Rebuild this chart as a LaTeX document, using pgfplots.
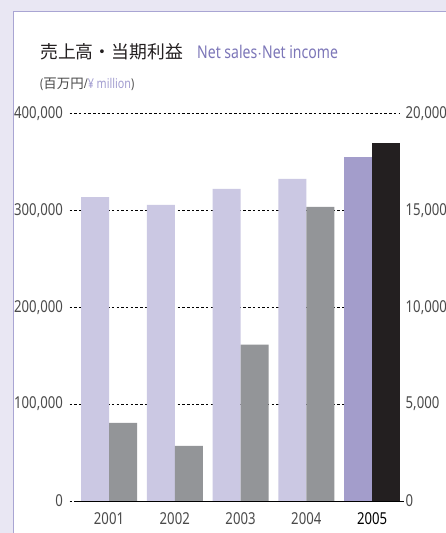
\documentclass[border=0pt]{standalone}
\usepackage{pgfplots}
\pgfplotsset{compat=1.18}
\usepackage{fontspec}
\setmainfont{Noto Sans}[FakeStretch=0.8]
\newfontfamily\cjk{Noto Sans CJK JP}

\definecolor{bgpanel}{HTML}{E9E7F3}
\definecolor{framec}{HTML}{A9A5D3}
\definecolor{salesc}{HTML}{CBC8E3}
\definecolor{sales5}{HTML}{A39DCB}
\definecolor{incc}{HTML}{939598}
\definecolor{inc5}{HTML}{231F20}
\definecolor{titlep}{HTML}{7C76B8}
\definecolor{subp}{HTML}{A29DD0}
\definecolor{txt}{HTML}{4A4A4A}

\pgfplotsset{
  panel/.style={
    at={(69.55bp,32bp)}, anchor=south west,
    scale only axis, width=329.45bp, height=387.6bp,
    xmin=-0.6, xmax=4.41,
    axis line style={draw=none},
    major tick length=0pt,
    scaled y ticks=false,
    /pgf/number format/fixed,
    /pgf/number format/assume math mode=true,
    /pgf/number format/1000 sep={,},
    tick label style={text=txt, font=\fontsize{16.5}{17}\selectfont},
  },
}

\begin{document}
\begin{tikzpicture}[x=1bp,y=1bp]
\useasboundingbox (0,0) rectangle (446,533);
\fill[bgpanel] (0,0) rectangle (446,533);
\fill[white] (13.3,0) rectangle (446,521.7);
\draw[framec, line width=1bp] (13.3,0) -- (13.3,521.7) -- (446,521.7);

% titles
\node[anchor=base west, inner sep=0pt, text=inc5] at (40,474)
  {\cjk\fontsize{17.9}{18}\selectfont 売上高・当期利益};
\node[anchor=base west, inner sep=0pt, text=titlep] at (197,474.7)
  {\fontsize{17.6}{18}\selectfont Net sales$\cdot$Net income};
\node[anchor=base west, inner sep=0pt, text=txt] at (40,444.7)
  {\fontsize{13.5}{14}\selectfont ({\cjk 百万円}/\textcolor{subp}{¥ million})};

% net sales, left axis
\begin{axis}[panel,
  ymin=0, ymax=400000,
  xtick={0,...,4},
  xticklabels={2001,2002,2003,2004,\textbf{\textcolor{black}{2005}}},
  xticklabel style={anchor=north, inner sep=0pt, yshift=-11bp},
  ytick={0,100000,...,400000},
  yticklabel style={anchor=east, inner sep=0pt, xshift=-6.5bp},
  ymajorgrids,
  grid style={black, line width=0.6bp, dash pattern=on 2.5bp off 2.2bp},
]
\addplot[ybar, bar width=28bp, bar shift=-14bp, fill=salesc, draw=none]
  coordinates {(0,313700) (1,305500) (2,322000) (3,332300)};
\addplot[ybar, bar width=28bp, bar shift=-14bp, fill=sales5, draw=none]
  coordinates {(4,355000)};
\end{axis}

% net income, right axis
\begin{axis}[panel,
  ymin=0, ymax=20000,
  xtick=\empty,
  ytick={0,5000,...,20000},
  yticklabel pos=right,
  yticklabel style={anchor=west, inner sep=0pt, xshift=6.5bp},
  clip=false,
]
\addplot[ybar, bar width=28bp, bar shift=14bp, fill=incc, draw=none]
  coordinates {(0,4025) (1,2838) (2,8065) (3,15170)};
\addplot[ybar, bar width=28bp, bar shift=14bp, fill=inc5, draw=none]
  coordinates {(4,18470)};
\draw[black, line width=0.8bp] (rel axis cs:0.0165,0) -- (rel axis cs:1.016,0);
\end{axis}
\end{tikzpicture}
\end{document}
